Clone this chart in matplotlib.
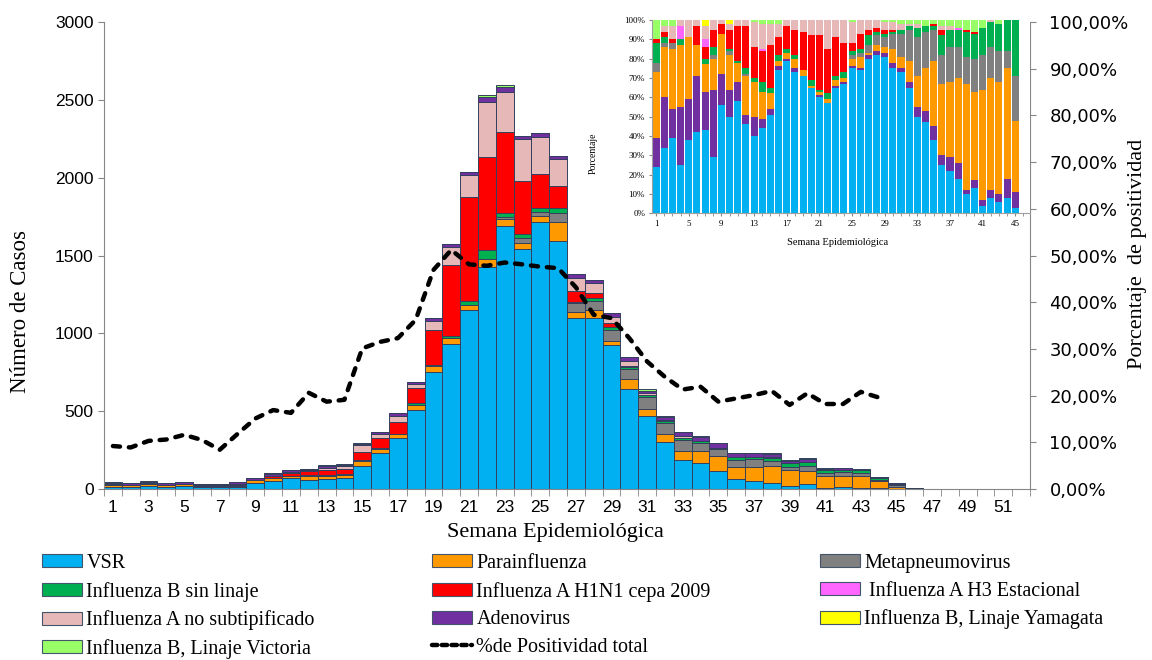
import numpy as np
import matplotlib
matplotlib.use("Agg")
import matplotlib.pyplot as plt
from matplotlib.patches import Patch
from matplotlib.lines import Line2D
from matplotlib.ticker import FuncFormatter

# --- main chart: cases per epidemiological week (weeks 1..46, rest are zero)
vsr = [11, 13, 19, 10, 17, 14, 14, 14, 41, 50, 70, 58, 64, 70, 150, 233, 326, 507, 750, 931,
       1150, 1428, 1692, 1542, 1713, 1595, 1101, 1096, 925, 640, 469, 304, 186, 165, 116, 62, 51, 41, 19, 30,
       4, 10, 7, 6, 1, 0]
para = [14, 10, 15, 13, 13, 5, 5, 8, 15, 18, 12, 26, 22, 23, 28, 24, 25, 33, 40, 37,
        32, 47, 40, 36, 43, 122, 34, 54, 28, 65, 43, 49, 58, 79, 96, 81, 92, 104, 100, 88,
        78, 76, 74, 45, 14, 3]
meta = [2, 1, 1, 0, 0, 0, 0, 1, 0, 2, 0, 2, 0, 0, 0, 0, 0, 0, 0, 0,
        0, 0, 17, 32, 21, 54, 58, 60, 68, 64, 77, 69, 71, 49, 47, 43, 48, 37, 25, 32,
        20, 20, 20, 7, 9, 0]
b_sin = [4, 1, 0, 1, 0, 0, 1, 2, 0, 1, 1, 3, 4, 5, 7, 5, 4, 10, 7, 15,
         26, 60, 22, 26, 26, 36, 10, 15, 18, 17, 15, 17, 15, 15, 5, 22, 17, 20, 20, 21,
         18, 17, 18, 10, 11, 0]
h1n1 = [1, 1, 1, 0, 0, 3, 2, 4, 4, 10, 21, 28, 30, 30, 55, 64, 75, 97, 224, 456,
        670, 600, 520, 343, 219, 141, 71, 32, 25, 6, 0, 0, 0, 0, 0, 0, 0, 0, 1, 0,
        0, 0, 0, 0, 0, 0]
h3 = [0, 0, 0, 3, 0, 0, 1, 0, 0, 0, 0, 0, 0, 1, 0, 0, 0, 0, 0, 0,
      0, 0, 0, 0, 0, 0, 0, 0, 0, 0, 0, 0, 0, 0, 0, 0, 0, 2, 0, 0,
      0, 0, 0, 0, 0, 0]
a_nosub = [0, 1, 4, 1, 4, 1, 2, 2, 1, 3, 3, 3, 18, 20, 40, 25, 39, 27, 60, 118,
           139, 353, 261, 269, 237, 172, 83, 64, 43, 30, 10, 5, 8, 0, 0, 0, 0, 0, 0, 0,
           0, 2, 0, 0, 0, 0]
adeno = [6, 9, 7, 12, 9, 9, 6, 16, 12, 14, 12, 6, 12, 8, 9, 13, 17, 15, 15, 17,
         21, 32, 32, 20, 30, 19, 22, 22, 22, 24, 18, 21, 28, 28, 30, 25, 25, 20, 12, 22,
         8, 8, 5, 7, 3, 3]
yamagata = [0, 0, 0, 0, 0, 0, 1, 0, 0, 2, 0, 0, 0, 0, 0, 0, 0, 0, 0, 0,
            0, 0, 0, 0, 0, 0, 0, 0, 0, 0, 0, 0, 0, 0, 0, 0, 0, 0, 0, 0,
            0, 0, 0, 0, 0, 0]
victoria = [4, 1, 2, 0, 0, 0, 0, 0, 0, 0, 1, 0, 2, 1, 4, 0, 0, 0, 0, 0,
            0, 9, 11, 0, 0, 0, 0, 0, 0, 0, 8, 4, 0, 4, 0, 0, 0, 5, 9, 6,
            5, 0, 2, 0, 0, 0]

# % de positividad total, weeks 1..44
positividad = [9.2, 8.9, 10.3, 10.6, 11.6, 10.5, 8.4, 11.8, 15.1, 16.9, 16.3, 20.6, 18.7, 19.1, 30.1,
               31.5, 32.3, 36.2, 46.9, 51.2, 48.1, 47.8, 48.5, 48.1, 47.6, 47.3, 43.2, 37.3, 36.6, 32.3,
               27.3, 24.0, 21.3, 21.9, 18.7, 19.4, 20.1, 21.0, 18.0, 20.5, 18.2, 18.2, 20.8, 19.6]

# --- inset: percentage by virus, weeks 1..45
pct_vsr = [24, 34, 39, 25, 38, 42, 43, 29, 56, 50, 58, 46, 40, 44, 51, 74, 79, 73, 71, 65,
           60, 57, 65, 67, 75, 74, 80, 82, 81, 75, 73, 65, 50, 47, 38, 25, 22, 18, 10, 13, 4, 8, 6, 8, 3]
pct_adeno = [15, 26, 15, 30, 21, 29, 20, 35, 16, 14, 10, 5, 10, 5, 3, 2, 1, 2, 0, 0,
             1, 0, 1, 1, 1, 1, 2, 2, 2, 3, 2, 3, 5, 6, 7, 5, 7, 8, 2, 4, 3, 4, 4, 10, 8]
pct_para = [34, 26, 31, 32, 32, 16, 14, 16, 21, 18, 10, 20, 18, 14, 8, 3, 3, 5, 3, 1,
            2, 2, 3, 2, 4, 6, 1, 3, 3, 7, 6, 11, 16, 22, 34, 37, 39, 44, 55, 46, 57, 58, 58, 57, 37]
pct_meta = [5, 2, 3, 0, 0, 0, 0, 2, 0, 2, 0, 1, 0, 0, 0, 0, 0, 0, 0, 0,
            0, 0, 0, 0, 2, 2, 4, 5, 5, 8, 12, 16, 20, 19, 16, 15, 18, 16, 14, 17, 18, 16, 16, 9, 23]
pct_b_sin = [10, 3, 0, 3, 0, 0, 3, 4, 0, 1, 1, 3, 2, 5, 3, 3, 2, 2, 0, 3,
             1, 3, 2, 3, 2, 2, 5, 2, 2, 1, 2, 2, 5, 3, 2, 10, 9, 9, 13, 13, 14, 13, 14, 16, 29]
pct_h1n1 = [2, 3, 2, 0, 0, 10, 6, 9, 5, 10, 18, 22, 16, 16, 22, 9, 12, 13, 20, 23,
            28, 23, 20, 15, 4, 8, 3, 2, 2, 1, 0, 0, 0, 0, 1, 3, 0, 0, 1, 1, 0, 0, 0, 0, 0]
pct_h3 = [0, 0, 0, 7, 0, 0, 4, 0, 0, 0, 0, 0, 0, 1, 0, 0, 0, 0, 0, 0,
          0, 0, 0, 0, 0, 0, 0, 0, 0, 0, 0, 0, 0, 0, 0, 0, 0, 1, 0, 0, 0, 0, 0, 0, 0]
pct_a_nosub = [0, 3, 7, 3, 9, 3, 7, 5, 2, 3, 3, 3, 13, 13, 11, 7, 3, 5, 6, 8,
               8, 15, 9, 12, 11, 7, 5, 4, 4, 4, 3, 1, 2, 0, 0, 2, 2, 0, 0, 0, 0, 1, 0, 0, 0]
pct_yamagata = [0, 0, 0, 0, 0, 0, 3, 0, 0, 2, 0, 0, 0, 0, 0, 0, 0, 0, 0, 0,
                0, 0, 0, 0, 0, 0, 0, 0, 0, 0, 0, 0, 0, 0, 0, 0, 0, 0, 0, 0, 0, 0, 0, 0, 0]
pct_victoria = [10, 3, 3, 0, 0, 0, 0, 0, 0, 0, 0, 0, 1, 2, 2, 2, 0, 0, 0, 0,
                0, 0, 0, 0, 1, 0, 0, 0, 1, 1, 2, 2, 2, 3, 2, 3, 3, 4, 5, 6, 4, 0, 2, 0, 0]

labels = ["VSR", "Parainfluenza", "Metapneumovirus", "Influenza B sin linaje",
          "Influenza A H1N1 cepa 2009", " Influenza A H3 Estacional", "Influenza A no subtipificado",
          "Adenovirus", "Influenza B, Linaje Yamagata", "Influenza B, Linaje Victoria"]
colors = ["#00B0F0", "#FF9900", "#808080", "#00B050", "#FF0000", "#FF66FF",
          "#E6B9B8", "#7030A0", "#FFFF00", "#99FF66"]

N_WEEKS = 52
SERIF = "Liberation Serif"


def pad(values):
    return np.array(values + [0] * (N_WEEKS - len(values)), dtype=float)


def main_chart(fig):
    ax = fig.add_axes([104 / 1152, 1 - 489 / 660, 926 / 1152, 467 / 660])
    weeks = np.arange(1, N_WEEKS + 1)
    series = [vsr, para, meta, b_sin, h1n1, h3, a_nosub, adeno, yamagata, victoria]
    bottom = np.zeros(N_WEEKS)
    for vals, c in zip(series, colors):
        v = pad(vals)
        ax.bar(weeks, v, bottom=bottom, width=1.0, color=c,
               edgecolor="#34405E", linewidth=0.7)
        bottom += v

    ax.set_xlim(0.5, 52.5)
    ax.set_ylim(0, 3000)
    ax.set_yticks(range(0, 3001, 500))
    ax.set_xticks(range(1, 53, 2))
    ax.set_xticks(np.arange(0.5, 53, 1), minor=True)
    ax.tick_params(axis="x", which="major", length=0, pad=8)
    ax.tick_params(axis="x", which="minor", length=5, color="#868686")
    ax.tick_params(axis="y", length=4, color="#868686")
    for lab in ax.get_xticklabels() + ax.get_yticklabels():
        lab.set_fontfamily("Liberation Sans")
        lab.set_fontsize(12.5)
    for s in ["top", "right"]:
        ax.spines[s].set_visible(False)
    for s in ["left", "bottom"]:
        ax.spines[s].set_color("#868686")

    ax.set_ylabel("Número de Casos", fontsize=16.5, family=SERIF)
    ax.yaxis.set_label_coords(-0.079, 0.381)
    ax.set_xlabel("Semana Epidemiológica", fontsize=16, family=SERIF)
    ax.xaxis.set_label_coords(0.487, -0.073)

    ax2 = ax.twinx()
    ax2.plot(np.arange(1, len(positividad) + 1), positividad, color="black", lw=3.2,
             linestyle=(0, (1.6, 2.0)), dash_capstyle="round")
    ax2.set_ylim(0, 100)
    ax2.set_yticks(range(0, 101, 10))
    ax2.yaxis.set_major_formatter(FuncFormatter(lambda v, p: f"{v:.2f}%".replace(".", ",")))
    ax2.tick_params(axis="y", labelsize=13, length=4, color="#868686", pad=10)
    for s in ["top", "left", "bottom"]:
        ax2.spines[s].set_visible(False)
    ax2.spines["right"].set_color("#868686")
    ax2.set_ylabel("Porcentaje  de positividad", fontsize=16, family=SERIF)
    ax2.yaxis.set_label_coords(1.106, 0.503)


def inset_chart(fig):
    axin = fig.add_axes([652 / 1152, 1 - 213.3 / 660, 378 / 1152, 193.3 / 660])
    weeks = np.arange(1, 46)
    series = [pct_vsr, pct_adeno, pct_para, pct_meta, pct_b_sin, pct_h1n1,
              pct_h3, pct_a_nosub, pct_yamagata, pct_victoria]
    inset_colors = [colors[0], colors[7], colors[1], colors[2], colors[3], colors[4],
                    colors[5], colors[6], colors[8], colors[9]]
    bottom = np.zeros(len(weeks))
    for vals, c in zip(series, inset_colors):
        v = np.array(vals, dtype=float)
        axin.bar(weeks, v, bottom=bottom, width=0.86, color=c, linewidth=0)
        bottom += v
    axin.set_xlim(0.5, 46.8)
    axin.set_ylim(0, 100)
    axin.set_yticks(range(0, 101, 10))
    axin.set_yticklabels([f"{v}%" for v in range(0, 101, 10)])
    axin.set_xticks(range(1, 46, 4))
    axin.set_xticks(np.arange(1, 47, 1), minor=True)
    axin.tick_params(labelsize=6.5, length=2, color="#868686", pad=3)
    axin.tick_params(which="minor", length=2, color="#868686")
    for lab in axin.get_xticklabels() + axin.get_yticklabels():
        lab.set_fontfamily(SERIF)
    for s in ["top", "right"]:
        axin.spines[s].set_visible(False)
    for s in ["left", "bottom"]:
        axin.spines[s].set_color("#A0A0A0")
    axin.set_ylabel("Porcentaje", fontsize=7, family=SERIF)
    axin.yaxis.set_label_coords(-0.143, 0.312)
    axin.set_xlabel("Semana Epidemiológica", fontsize=7.5, family=SERIF)
    axin.xaxis.set_label_coords(0.492, -0.13)


def legend(fig):
    patches = [Patch(facecolor=c, edgecolor="#44546A", linewidth=0.8, label=l)
               for c, l in zip(colors, labels)]
    line = Line2D([0], [0], color="black", lw=3.2, linestyle=(0, (1.2, 1.0)),
                  dash_capstyle="round", label="%de Positividad total")
    columns = [
        (42, [patches[0], patches[3], patches[6], patches[9]]),
        (432, [patches[1], patches[4], patches[7], line]),
        (820, [patches[2], patches[5], patches[8]]),
    ]
    for x, handles in columns:
        fig.legend(handles=handles, loc="upper left",
                   bbox_to_anchor=(x / 1152, 1 - 554 / 660),
                   frameon=False, borderpad=0, borderaxespad=0,
                   handlelength=2.0, handleheight=0.62, handletextpad=0.2,
                   labelspacing=0.43, prop={"family": SERIF, "size": 14.5})


def main():
    fig = plt.figure(figsize=(11.52, 6.6), dpi=100)
    main_chart(fig)
    inset_chart(fig)
    legend(fig)
    fig.savefig("out.png", dpi=100)


if __name__ == "__main__":
    main()
